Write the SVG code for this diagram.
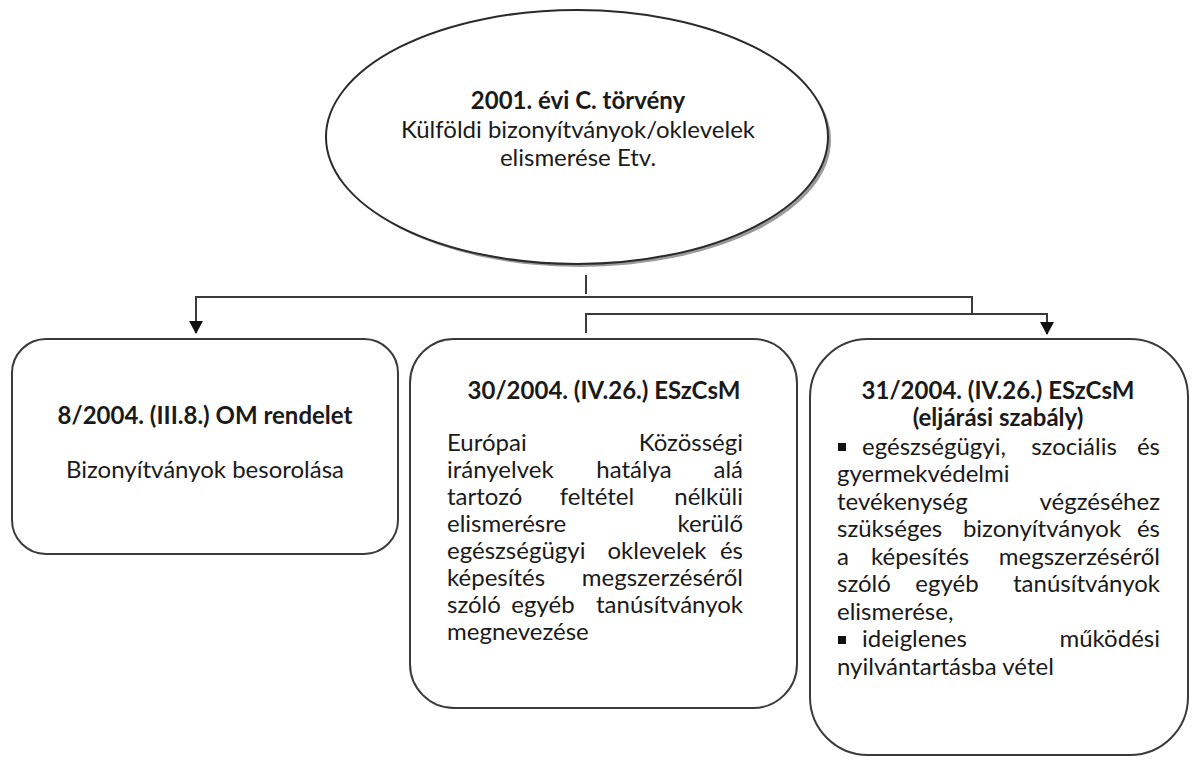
<svg xmlns="http://www.w3.org/2000/svg" width="1192" height="762" viewBox="0 0 1192 762">
<style>
text{font-family:Lato,"Open Sans","Liberation Sans",sans-serif;font-size:24px;fill:#1a1a1a}
.b{font-weight:bold}
.c{text-anchor:middle}
.e{text-anchor:end}
.box{fill:#fff;stroke:#3a3a3a;stroke-width:2}
.con{fill:none;stroke:#3a3a3a;stroke-width:2}
</style>
<defs>
<marker id="arr" markerUnits="userSpaceOnUse" markerWidth="14" markerHeight="14" refX="7" refY="12" orient="0" viewBox="0 0 14 14">
<path d="M0,0 L14,0 L7,13 z" fill="#111"/>
</marker>
</defs>
<rect width="1192" height="762" fill="#fff"/>
<g id="root">
<ellipse cx="580" cy="140" rx="251" ry="127" fill="#9a9a9a"/>
<ellipse cx="577" cy="137" rx="251" ry="127" fill="#fff" stroke="#2a2a2a" stroke-width="2"/>
<text class="c b" x="578" y="109">2001. évi C. törvény</text>
<text class="c" x="578" y="138">Külföldi bizonyítványok/oklevelek</text>
<text class="c" x="578" y="166">elismerése Etv.</text>
</g>
<g id="connectors">
<path class="con" d="M586 275 V294"/>
<path class="con" d="M972 314 V297 H196 V333" marker-end="url(#arr)"/>
<path class="con" d="M586 333 V314 H1047 V334" marker-end="url(#arr)"/>
</g>
<g id="n1">
<rect class="box" x="12" y="339" width="386" height="215" rx="34"/>
<text class="c b" x="205" y="424">8/2004. (III.8.) OM rendelet</text>
<text class="c" x="205" y="478">Bizonyítványok besorolása</text>
</g>
<g id="n2">
<rect class="box" x="410" y="339" width="387" height="369" rx="44"/>
<text class="c b" x="604" y="399">30/2004. (IV.26.) ESzCsM</text>
<text x="447" y="451">Európai</text><text class="e" x="743" y="451">Közösségi</text>
<text x="447" y="478">irányelvek</text><text class="c" x="634" y="478">hatálya</text><text class="e" x="743" y="478">alá</text>
<text x="447" y="505">tartozó</text><text class="c" x="597" y="505">feltétel</text><text class="e" x="743" y="505">nélküli</text>
<text x="447" y="532">elismerésre</text><text class="e" x="743" y="532">kerülő</text>
<text x="447" y="559">egészségügyi</text><text class="c" x="657" y="559">oklevelek</text><text class="e" x="743" y="559">és</text>
<text x="447" y="586">képesítés</text><text class="e" x="743" y="586">megszerzéséről</text>
<text x="447" y="613">szóló</text><text class="c" x="543" y="613">egyéb</text><text class="e" x="743" y="613">tanúsítványok</text>
<text x="447" y="640">megnevezése</text>
</g>
<g id="n3">
<rect class="box" x="810" y="339" width="378" height="416" rx="58"/>
<text class="c b" x="998" y="399">31/2004. (IV.26.) ESzCsM</text>
<text class="c b" x="998" y="426">(eljárási szabály)</text>
<rect x="838" y="443" width="8" height="8" fill="#111"/>
<text x="862" y="455">egészségügyi,</text><text class="c" x="1074" y="455">szociális</text><text class="e" x="1160" y="455">és</text>
<text x="837" y="482">gyermekvédelmi</text>
<text x="837" y="510">tevékenység</text><text class="e" x="1160" y="510">végzéséhez</text>
<text x="837" y="537">szükséges</text><text class="c" x="1042" y="537">bizonyítványok</text><text class="e" x="1160" y="537">és</text>
<text x="837" y="565">a</text><text class="c" x="920" y="565">képesítés</text><text class="e" x="1160" y="565">megszerzéséről</text>
<text x="837" y="592">szóló</text><text class="c" x="947" y="592">egyéb</text><text class="e" x="1160" y="592">tanúsítványok</text>
<text x="837" y="620">elismerése,</text>
<rect x="838" y="636" width="8" height="8" fill="#111"/>
<text x="862" y="647">ideiglenes</text><text class="e" x="1160" y="647">működési</text>
<text x="837" y="675">nyilvántartásba vétel</text>
</g>
</svg>
